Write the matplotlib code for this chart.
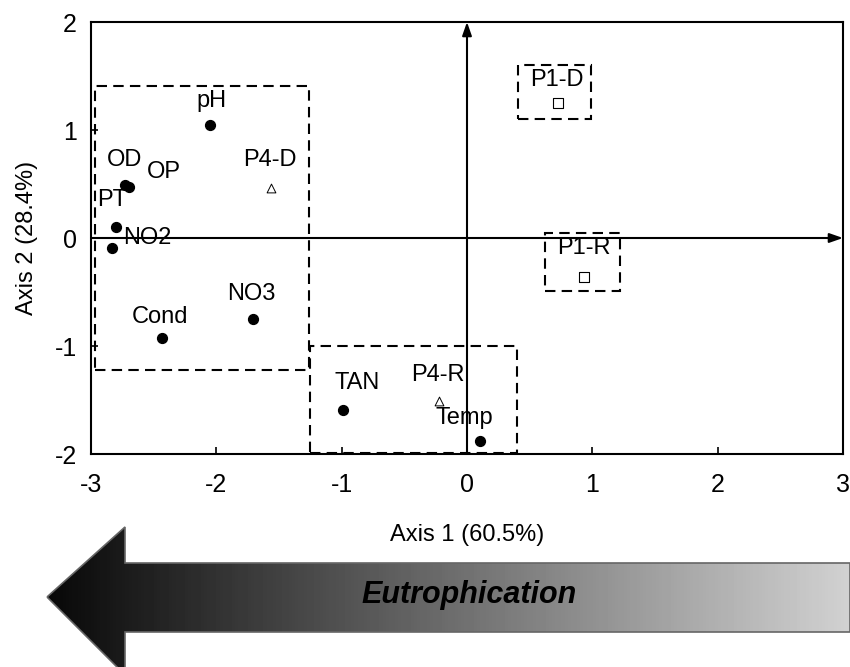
import numpy as np
import matplotlib.pyplot as plt
from matplotlib.patches import Polygon, Rectangle

plt.rcParams['font.family'] = ['Liberation Sans', 'DejaVu Sans']
plt.rcParams['axes.unicode_minus'] = False

# variables (filled circles)
var_names = ['pH', 'OD', 'OP', 'PT', 'NO2', 'Cond', 'NO3', 'TAN', 'Temp']
var_x = [-2.05, -2.73, -2.70, -2.80, -2.83, -2.43, -1.71, -0.99, 0.10]
var_y = [1.05, 0.49, 0.47, 0.10, -0.09, -0.93, -0.75, -1.59, -1.88]
var_lx = [-2.04, -2.73, -2.42, -2.83, -2.55, -2.45, -1.72, -0.88, -0.02]
var_ly = [1.27, 0.72, 0.61, 0.35, 0.0, -0.73, -0.52, -1.34, -1.67]

# sites
p4_names = ['P4-D', 'P4-R']
p4_x = [-1.56, -0.22]
p4_y = [0.46, -1.51]
p4_lx = [-1.57, -0.23]
p4_ly = [0.72, -1.27]
p1_names = ['P1-D', 'P1-R']
p1_x = [0.73, 0.93]
p1_y = [1.25, -0.36]
p1_lx = [0.72, 0.93]
p1_ly = [1.46, -0.09]

# dashed groups (x0, y0, x1, y1)
boxes = [(-2.97, -1.22, -1.26, 1.41),
         (-1.25, -1.99, 0.40, -1.0),
         (0.41, 1.10, 0.99, 1.60),
         (0.62, -0.49, 1.22, 0.05)]

fig = plt.figure(figsize=(8.5, 6.67), dpi=100)

# gradient arrow in the background (pixel coords)
bg = fig.add_axes([0, 0, 1, 1], zorder=0)
bg.set_xlim(0, 850)
bg.set_ylim(667, 0)
bg.axis('off')
arrow_pts = [(47, 597), (125, 527), (125, 563), (850, 563),
             (850, 632), (125, 632), (125, 675)]
poly = Polygon(arrow_pts, closed=True, facecolor='none', edgecolor='#666666', lw=1.2)
bg.add_patch(poly)
grad = np.linspace(0.03, 0.82, 256).reshape(1, -1)
im = bg.imshow(grad, cmap='gray', vmin=0, vmax=1, aspect='auto',
               extent=[47, 850, 675, 527])
im.set_clip_path(poly)
bg.text(469, 595, 'Eutrophication', ha='center', va='center', fontsize=22,
        fontweight='bold', fontstyle='italic')
bg.text(467, 535, 'Axis 1 (60.5%)', ha='center', va='center', fontsize=17)

ax = fig.add_axes([91 / 850, 1 - 454 / 667, 752 / 850, 432 / 667], zorder=1)
ax.patch.set_alpha(0)
ax.set_xlim(-3, 3)
ax.set_ylim(-2, 2)
ax.set_xticks([-3, -2, -1, 0, 1, 2, 3])
ax.set_yticks([-2, -1, 0, 1, 2])
ax.tick_params(direction='in', length=5, width=1.2, labelsize=18)
ax.tick_params(axis='x', pad=14)
ax.tick_params(axis='y', pad=10)
for s in ax.spines.values():
    s.set_linewidth(1.5)
ax.set_ylabel('Axis 2 (28.4%)', fontsize=17, labelpad=12)

# central axes with arrows
ax.annotate('', xy=(3, 0), xytext=(-3, 0),
            arrowprops=dict(arrowstyle='-|>,head_length=0.8,head_width=0.28',
                            color='black', lw=1.5, shrinkA=0, shrinkB=0))
ax.annotate('', xy=(0, 2), xytext=(0, -2),
            arrowprops=dict(arrowstyle='-|>,head_length=0.8,head_width=0.28',
                            color='black', lw=1.5, shrinkA=0, shrinkB=0))

for x0, y0, x1, y1 in boxes:
    ax.add_patch(Rectangle((x0, y0), x1 - x0, y1 - y0, fill=False,
                           ls=(0, (5, 3)), lw=1.5, edgecolor='black'))

ax.scatter(var_x, var_y, s=50, color='black', zorder=3)
ax.scatter(p4_x, p4_y, s=40, marker='^', facecolor='white', edgecolor='black',
           linewidth=0.7, zorder=3)
ax.scatter(p1_x, p1_y, s=50, marker='s', facecolor='white', edgecolor='black',
           linewidth=0.8, zorder=3)

for n, x, y in zip(var_names + p4_names + p1_names,
                   var_lx + p4_lx + p1_lx, var_ly + p4_ly + p1_ly):
    ax.text(x, y, n, ha='center', va='center', fontsize=17, zorder=4)

fig.savefig('out.png', dpi=100)
